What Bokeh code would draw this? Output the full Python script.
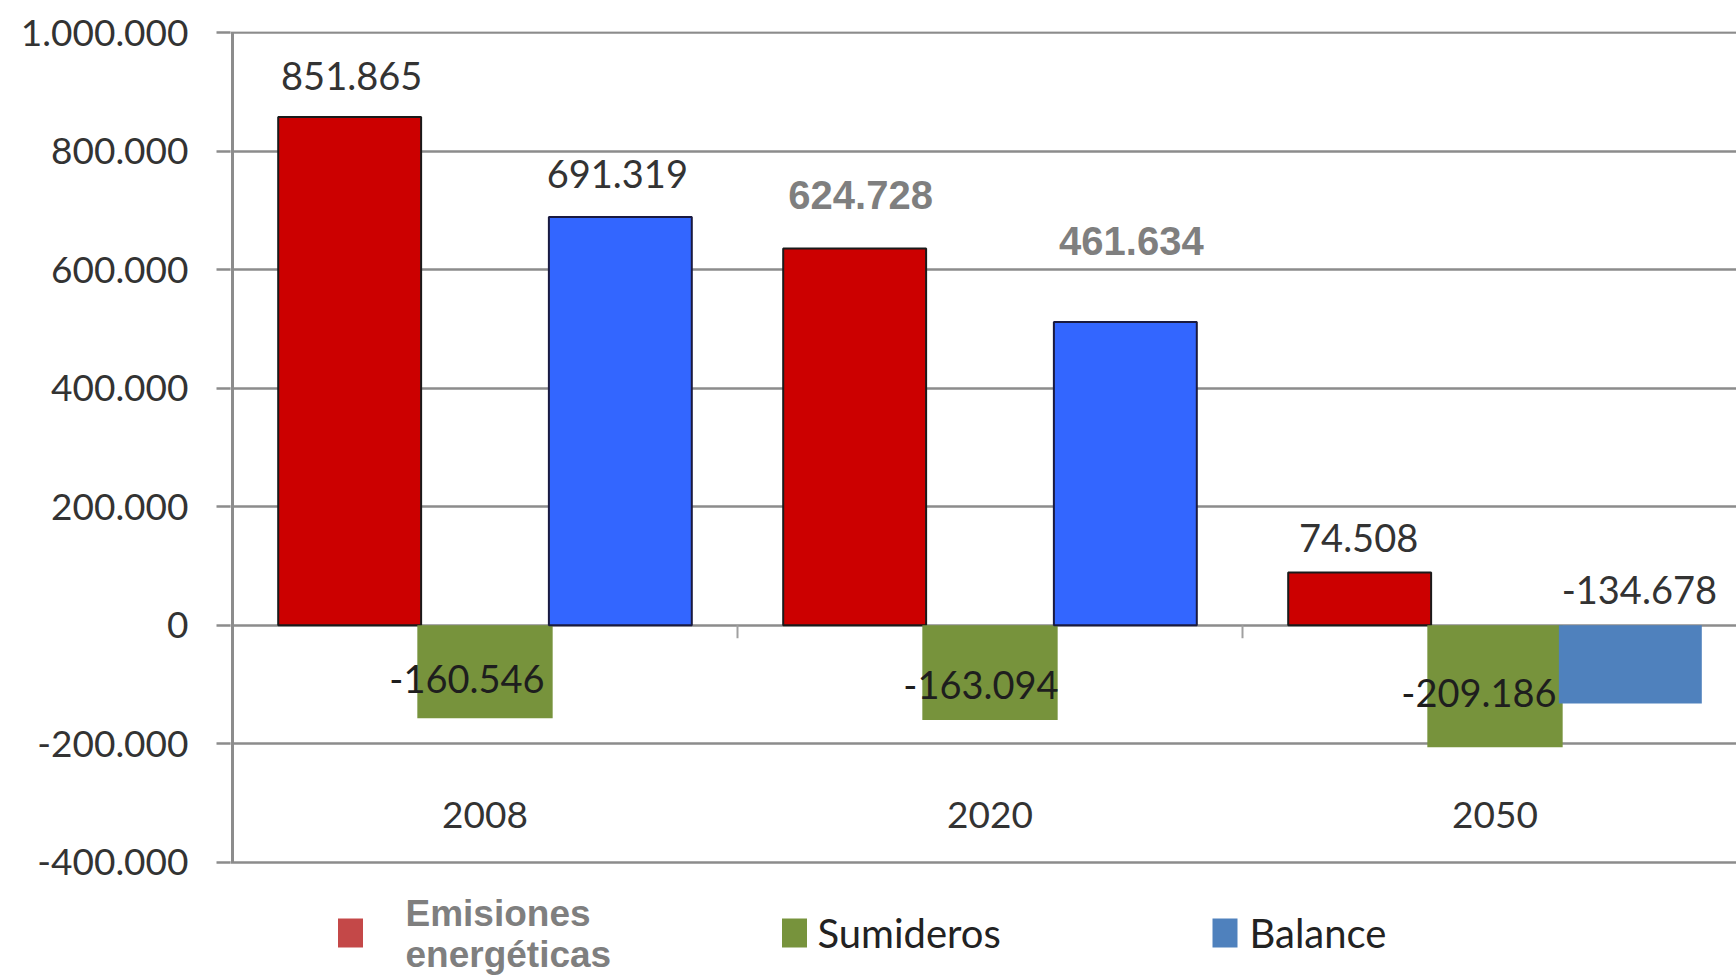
from bokeh.plotting import figure
from bokeh.models import Range1d, FixedTicker, CustomJSTickFormatter, ColumnDataSource
from bokeh.embed import file_html
from bokeh.resources import INLINE
from bokeh.core.properties import value

# ---------------- data ----------------
years = ["2008", "2020", "2050"]
series = ["Emisiones energéticas", "Sumideros", "Balance"]
emisiones = [858000, 636000, 89000]
sumideros = [-157000, -160000, -206000]
balance = [689000, 512000, -132000]
emisiones_labels = ["851.865", "624.728", "74.508"]
sumideros_labels = ["-160.546", "-163.094", "-209.186"]
balance_labels = ["691.319", "461.634", "-134.678"]
y_ticks = [-400000, -200000, 0, 200000, 400000, 600000, 800000, 1000000]

# ---------------- layout / style ----------------
W, H = 1736, 976
LEFT, TOP = 230, 31
GROUP_PX = 505.0
FRAME_W, FRAME_H = W - LEFT, H - TOP
XR0 = -2.0 / GROUP_PX
XR1 = XR0 + FRAME_W / GROUP_PX
YR1, YR0 = 1002200, -592940
SCALE = FRAME_H / (YR1 - YR0)          # px per data unit


def px_x(px):
    return XR0 + (px - LEFT) / GROUP_PX


def px_y(py):
    return YR0 + (H - py) / SCALE


OFF = 0.268
BW_SIDE, BW_MID = 0.283, 0.268
RED, GREEN, BLUE, BLUE2 = "#CC0000", "#77933C", "#3366FF", "#4F81BD"
GRID = "#8c8c8c"
TXT = "#333333"

p = figure(width=W, height=H,
           x_range=Range1d(XR0, XR1), y_range=Range1d(YR0, YR1),
           x_axis_location=None,
           output_backend="svg", toolbar_location=None,
           min_border_left=LEFT, min_border_right=0,
           min_border_top=TOP, min_border_bottom=0)
p.outline_line_color = None
p.background_fill_color = "white"
p.border_fill_color = "white"
p.xgrid.visible = False
p.ygrid.ticker = FixedTicker(ticks=y_ticks)
p.ygrid.grid_line_color = GRID
p.ygrid.grid_line_width = 2.5

yax = p.yaxis[0]
yax.ticker = FixedTicker(ticks=y_ticks)
yax.formatter = CustomJSTickFormatter(code="""
    return Math.round(tick).toString().replace(/\\B(?=(\\d{3})+(?!\\d))/g, '.');
""")
yax.axis_line_color = None
yax.major_tick_line_color = GRID
yax.major_tick_line_width = 2.5
yax.major_tick_out = 14
yax.major_tick_in = 0
yax.minor_tick_line_color = None
yax.major_label_standoff = 28
yax.major_label_text_font = "Lato"
yax.major_label_text_font_size = "37px"
yax.major_label_text_color = TXT

# value axis line (only over the tick span)
p.segment(x0=[0], y0=[y_ticks[0]], x1=[0], y1=[y_ticks[-1]],
          line_color=GRID, line_width=3)

centers = [i + 0.5 for i in range(len(years))]
x_em = [c - OFF for c in centers]
x_su = centers
x_ba = [c + OFF for c in centers]

# category separator ticks on the zero line
p.segment(x0=[1, 2], y0=[0, 0], x1=[1, 2], y1=[-13 / SCALE] * 2,
          line_color="#a0a0a0", line_width=2)

p.vbar(x=x_em, top=emisiones, bottom=0, width=BW_SIDE,
       fill_color=RED, line_color="#1a1a1a", line_width=2)
p.vbar(x=x_su, top=0, bottom=sumideros, width=BW_MID,
       fill_color=GREEN, line_color=None)
ba_colors = [BLUE if v >= 0 else BLUE2 for v in balance]
ba_lines = ["#1a1a40" if v >= 0 else None for v in balance]
p.vbar(x=x_ba, top=[max(v, 0) for v in balance], bottom=[min(v, 0) for v in balance],
       width=BW_SIDE, fill_color=ba_colors, line_color=ba_lines, line_width=2)

# ---------------- data labels ----------------
# pixel offsets of each label from its bar end (layout only)
em_dx, em_dy = [2, 6, -1], [-41, -53, -35]
su_dx, su_dy = [-18, -9, -16], [-39, -35, -54]
ba_dx, ba_dy = [-3, 6, 9], [-43, -81, -113]

lab = dict(x=[], y=[], text=[], dx=[], dy=[], font=[], style=[], color=[], size=[])


def add(xs, vals, texts, dxs, dys, fonts, styles, colors, sizes):
    for i in range(len(xs)):
        lab["x"].append(xs[i]); lab["y"].append(vals[i]); lab["text"].append(texts[i])
        lab["dx"].append(dxs[i]); lab["dy"].append(dys[i]); lab["font"].append(fonts[i])
        lab["style"].append(styles[i]); lab["color"].append(colors[i]); lab["size"].append(sizes[i])


add(x_em, emisiones, emisiones_labels, em_dx, em_dy,
    ["Lato", "Liberation Sans", "Lato"], ["normal", "bold", "normal"],
    [TXT, "#7f7f7f", TXT], ["38px", "40px", "38px"])
add(x_su, sumideros, sumideros_labels, su_dx, su_dy,
    ["Lato"] * 3, ["normal"] * 3, ["#1e1e1e"] * 3, ["38px"] * 3)
add(x_ba, balance, balance_labels, ba_dx, ba_dy,
    ["Lato", "Liberation Sans", "Lato"], ["normal", "bold", "normal"],
    [TXT, "#7f7f7f", TXT], ["38px", "40px", "38px"])

p.text(x="x", y="y", text="text", x_offset="dx", y_offset="dy",
       text_font="font", text_font_style="style", text_color="color",
       text_font_size="size", text_align="center", text_baseline="middle",
       source=ColumnDataSource(lab))

# category labels (inside plot, near bottom)
p.text(x=centers, y=[px_y(814)] * 3, text=years, text_align="center",
       text_baseline="middle", text_font=value("Lato"), text_font_size="37px",
       text_color=TXT)

# ---------------- legend (below the value range) ----------------
leg_colors = ["#C44848", GREEN, BLUE2]
sq_px = [350, 794, 1224.5]
p.rect(x=[px_x(v) for v in sq_px], y=[px_y(932.5)] * 3,
       width=25 / GROUP_PX, height=29 / SCALE,
       fill_color=leg_colors, line_color=None)
p.text(x=[px_x(405)] * 2, y=[px_y(913), px_y(954)], text=series[0].split(" "),
       text_font=value("Liberation Sans"), text_font_style="bold",
       text_font_size="37px", text_color="#7f7f7f",
       text_align="left", text_baseline="middle")
p.text(x=[px_x(817), px_x(1249)], y=[px_y(932)] * 2, text=series[1:],
       text_font=value("Lato"), text_font_size="40px", text_color="#222222",
       text_align="left", text_baseline="middle")

open("out.html", "w").write(file_html(p, INLINE))
